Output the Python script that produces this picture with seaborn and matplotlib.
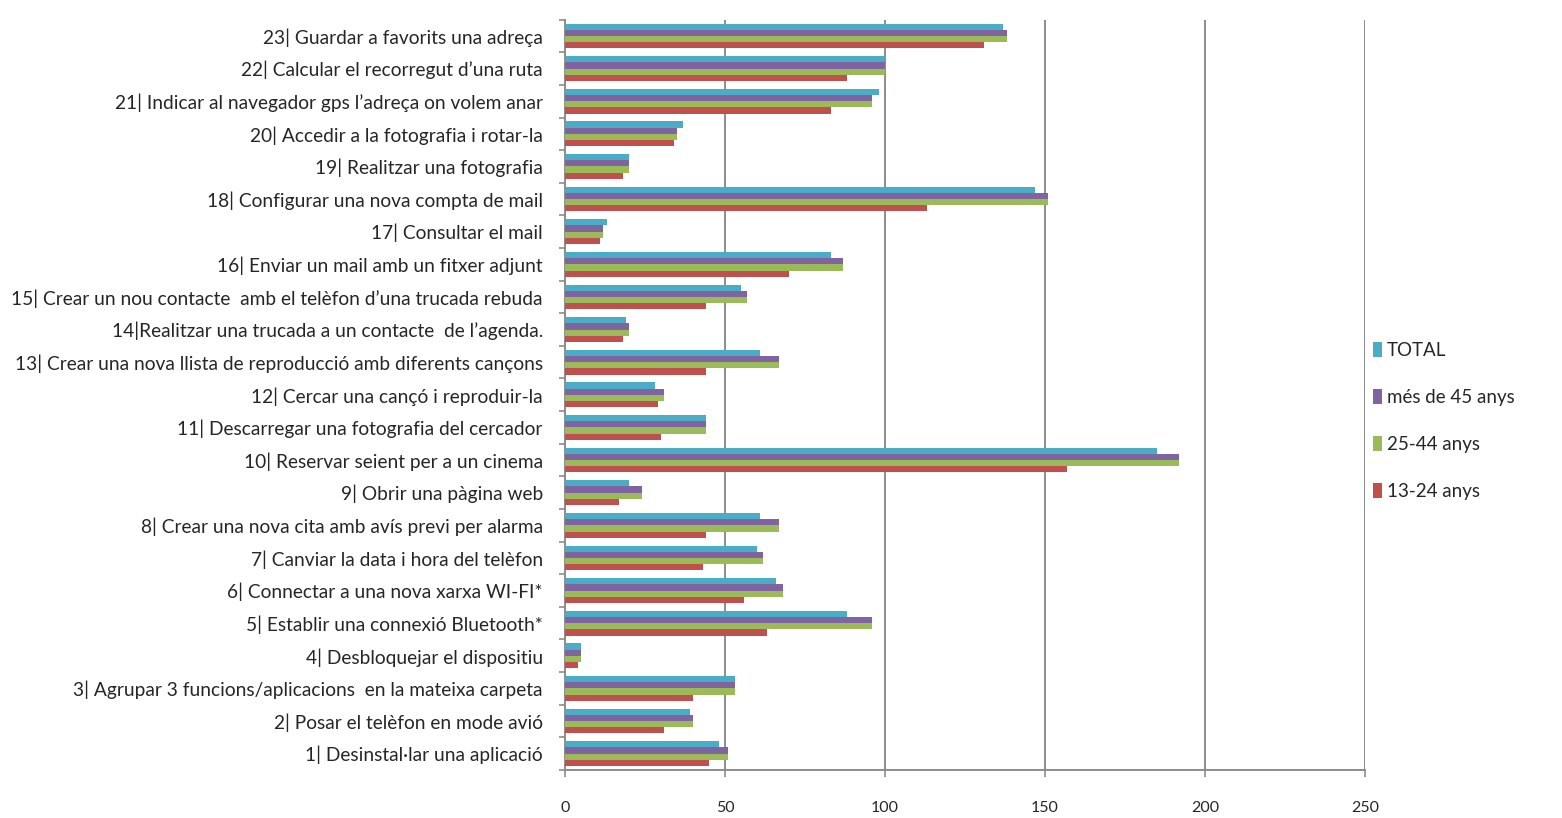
import numpy as np
import pandas as pd
import seaborn as sns
import matplotlib.pyplot as plt
from matplotlib.ticker import FixedLocator

# Task labels, listed from top to bottom
tasks = [
    "23| Guardar a favorits una adreça",
    "22| Calcular el recorregut d\u2019una ruta",
    "21| Indicar al navegador gps l\u2019adreça on volem anar",
    "20| Accedir a la fotografia i rotar-la",
    "19| Realitzar una fotografia",
    "18| Configurar una nova compta de mail",
    "17| Consultar el mail",
    "16| Enviar un mail amb un fitxer adjunt",
    "15| Crear un nou contacte  amb el telèfon d\u2019una trucada rebuda",
    "14|Realitzar una trucada a un contacte  de l\u2019agenda.",
    "13| Crear una nova llista de reproducció amb diferents cançons",
    "12| Cercar una cançó i reproduir-la",
    "11| Descarregar una fotografia del cercador",
    "10| Reservar seient per a un cinema",
    "9| Obrir una pàgina web",
    "8| Crear una nova cita amb avís previ per alarma",
    "7| Canviar la data i hora del telèfon",
    "6| Connectar a una nova xarxa WI-FI*",
    "5| Establir una connexió Bluetooth*",
    "4| Desbloquejar el dispositiu",
    "3| Agrupar 3 funcions/aplicacions  en la mateixa carpeta",
    "2| Posar el telèfon en mode avió",
    "1| Desinstal\u00b7lar una aplicació",
]

groups = ["TOTAL", "més de 45 anys", "25-44 anys", "13-24 anys"]

total   = [137, 100, 98, 37, 20, 147, 13, 83, 55, 19, 61, 28, 44, 185, 20, 61, 60, 66, 88, 5, 53, 39, 48]
mes45   = [138, 100, 96, 35, 20, 151, 12, 87, 57, 20, 67, 31, 44, 192, 24, 67, 62, 68, 96, 5, 53, 40, 51]
a25_44  = [138, 100, 96, 35, 20, 151, 12, 87, 57, 20, 67, 31, 44, 192, 24, 67, 62, 68, 96, 5, 53, 40, 51]
a13_24  = [131, 88, 83, 34, 18, 113, 11, 70, 44, 18, 44, 29, 30, 157, 17, 44, 43, 56, 63, 4, 40, 31, 45]

colors = ["#4bacc6", "#8064a2", "#9bbb59", "#c0504d"]

df = pd.DataFrame({
    "task": tasks * 4,
    "group": np.repeat(groups, len(tasks)),
    "value": total + mes45 + a25_44 + a13_24,
})

sns.set_theme(style="white")
plt.rcParams["font.family"] = ["Lato", "DejaVu Sans"]

fig = plt.figure(figsize=(15.62, 8.18), dpi=100)
ax = fig.add_axes([0.3617, 0.0587, 0.5122, 0.9173])

sns.barplot(data=df, y="task", x="value", hue="group", order=tasks,
            hue_order=groups, palette=colors, orient="h", width=0.76,
            saturation=1, errorbar=None, linewidth=0, ax=ax, zorder=3)

ax.set_xlim(0, 250)
ax.set_ylim(len(tasks) - 0.5, -0.5)
ax.set_xticks([0, 50, 100, 150, 200, 250])
ax.set_xlabel("")
ax.set_ylabel("")

ax.xaxis.grid(True, color="#8c8c8c", linewidth=1.4, zorder=0)
ax.yaxis.grid(False)
for side in ["top", "right"]:
    ax.spines[side].set_visible(False)
for side in ["left", "bottom"]:
    ax.spines[side].set_color("#8c8c8c")
    ax.spines[side].set_linewidth(1.4)

ax.tick_params(axis="y", which="major", length=0, pad=16,
               labelsize=13.8, labelcolor="#262626")
ax.yaxis.set_minor_locator(FixedLocator(np.arange(-0.5, len(tasks), 1.0)))
ax.tick_params(axis="y", which="minor", left=True, length=4, width=1.2,
               color="#8c8c8c", direction="out")
ax.tick_params(axis="x", which="major", bottom=True, length=5, width=1.2,
               color="#8c8c8c", direction="out", pad=17,
               labelsize=11.5, labelcolor="#262626")

leg = ax.legend(loc="center left", bbox_to_anchor=(1.0, 0.465), frameon=False,
                fontsize=13.5, handlelength=0.5, handleheight=0.8,
                handletextpad=0.25, labelspacing=1.6, borderaxespad=0.0)
for t in leg.get_texts():
    t.set_color("#262626")

fig.savefig("out.png", dpi=100, facecolor="white")
